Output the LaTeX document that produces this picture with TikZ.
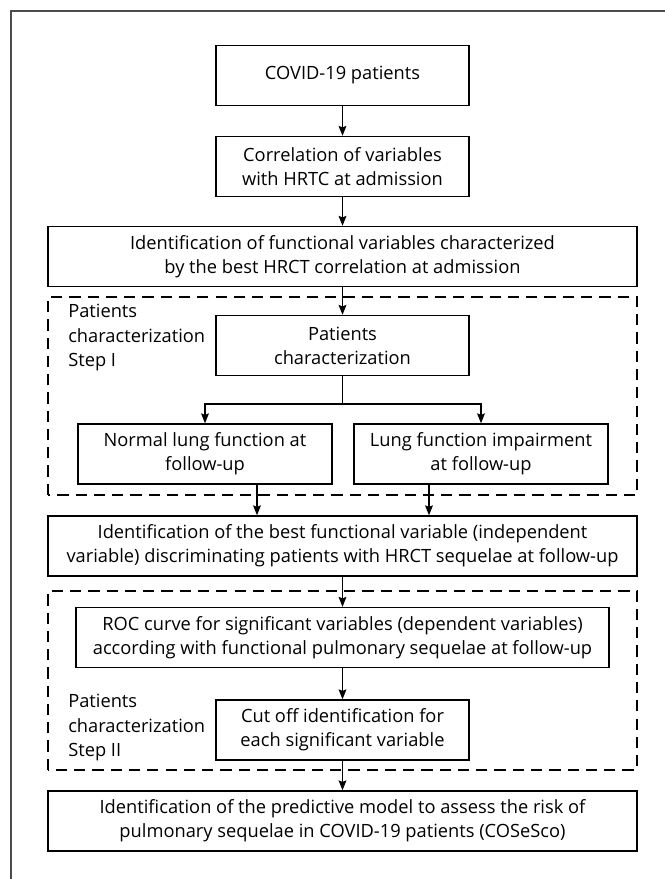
\documentclass[tikz,border=0pt]{standalone}
\usepackage{fontspec}
\setmainfont{Open Sans}
\usetikzlibrary{arrows.meta,calc,positioning}
\tikzset{
    box/.style={draw,line width=1pt,inner sep=0pt,align=center,
        minimum height=1.5cm,font=\fontsize{13}{17}\selectfont},
    dashbox/.style={draw,line width=1pt,dash pattern=on 8pt off 5pt},
    flow/.style={-{Stealth[length=7pt,width=5.5pt,inset=1pt]},line width=1pt},
    steplabel/.style={align=left,inner sep=0pt,font=\fontsize{13}{17.4}\selectfont}
}

\begin{document}
\begin{tikzpicture}
    \useasboundingbox (0,0) rectangle (16.6,21.975);

    % Outer frame.
    \draw[black!70,line width=1.1pt] (0.275,-1) -- (0.275,21.7) -- (17,21.7);

    % Top of the chart.
    \node[box,minimum width=6.325cm] (covid) at (8.5625,20.0875) {COVID-19 patients};
    \node[box,minimum width=6.325cm] (corr) at (8.5625,17.8125)
        {Correlation of variables\\with HRTC at admission};
    \node[box,minimum width=14.725cm] (funcvar) at (8.5625,15.5625)
        {Identification of functional variables characterized\\by the best HRCT correlation at admission};

    % Step I block.
    \draw[dashbox] (1.2,9.6) rectangle (15.925,14.55);
    \node[steplabel,anchor=north west] (stepone) at (1.7,14.37)
        {Patients\\characterization\\Step I};
    \node[box,minimum width=6.325cm] (pchar) at (8.5625,13.3375)
        {Patients\\characterization};
    \node[box,minimum width=6.35cm] (normal) at (5.125,10.625)
        {Normal lung function at\\follow-up};
    \node[box,minimum width=6.35cm] (impair) at (12.025,10.625)
        {Lung function impairment\\at follow-up};

    \node[box,minimum width=14.725cm] (bestvar) at (8.5625,8.325)
        {Identification of the best functional variable (independent\\variable) discriminating patients with HRCT sequelae at follow-up};

    % Step II block.
    \draw[dashbox] (1.2,2.725) rectangle (15.925,7.2);
    \node[box,minimum width=13.325cm] (roc) at (8.5625,6.0375)
        {ROC curve for significant variables (dependent variables)\\according with functional pulmonary sequelae at follow-up};
    \node[box,minimum width=6.325cm] (cutoff) at (8.5625,3.725)
        {Cut off identification for\\each significant variable};
    \node[steplabel,anchor=west] (steptwo) at (1.7,3.78)
        {Patients\\characterization\\Step II};

    \node[box,minimum width=14.725cm] (model) at (8.5625,1.45)
        {Identification of the predictive model to assess the risk of\\pulmonary sequelae in COVID-19 patients (COSeSco)};

    % Arrows.
    \draw[flow] (covid) -- (corr);
    \draw[flow] (corr) -- (funcvar);
    \draw[flow] (funcvar) -- (pchar);
    \draw[line width=1pt] (pchar.south) -- ++(0,-0.7) coordinate (split);
    \draw[flow] (split) -| (normal.north);
    \draw[flow] (split) -| (impair.north);
    \draw[flow] ([xshift=1.3cm]normal.south) -- ([xshift=1.3cm]normal.south |- bestvar.north);
    \draw[flow] ([xshift=-1.3cm]impair.south) -- ([xshift=-1.3cm]impair.south |- bestvar.north);
    \draw[flow] (bestvar) -- (roc);
    \draw[flow] (roc.south -| cutoff.north) -- (cutoff);
    \draw[flow] (cutoff) -- (model);

\end{tikzpicture}
\end{document}
